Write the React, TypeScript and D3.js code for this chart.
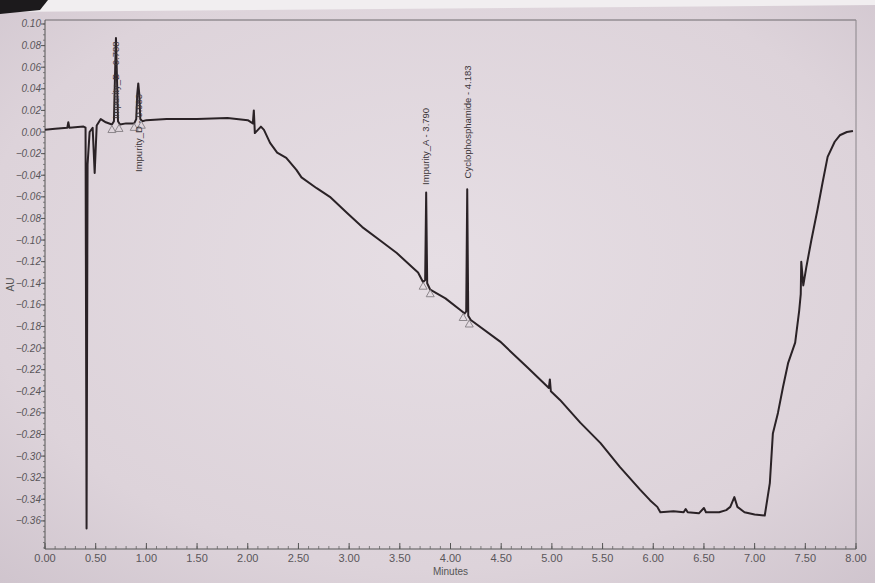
import React from 'react';
import * as d3 from 'd3';

// ---- Data ----
const traceTime = [
  0.0, 0.1, 0.22, 0.23, 0.24, 0.38, 0.40, 0.41, 0.42, 0.44, 0.47, 0.49, 0.51, 0.55, 0.60,
  0.66, 0.68, 0.69, 0.70, 0.71, 0.72, 0.74, 0.80, 0.88, 0.90, 0.91, 0.92, 0.93, 0.94, 0.96,
  1.0, 1.2, 1.5, 1.8, 2.0, 2.05, 2.06, 2.07, 2.10, 2.13, 2.16, 2.22, 2.29, 2.38, 2.48, 2.53,
  2.68, 2.81, 2.98, 3.13, 3.30, 3.47, 3.62, 3.68, 3.73, 3.75, 3.76, 3.77, 3.80, 3.95, 4.10,
  4.14, 4.155, 4.165, 4.175, 4.20, 4.49, 4.76, 4.97, 4.98, 4.99, 5.08, 5.28, 5.48, 5.67, 5.87,
  5.97, 6.04, 6.07, 6.20, 6.30, 6.32, 6.34, 6.45, 6.50, 6.52, 6.65, 6.72, 6.76, 6.80, 6.83,
  6.90, 7.00, 7.10, 7.15, 7.18, 7.23, 7.28, 7.33, 7.40, 7.44, 7.455, 7.46, 7.48, 7.51, 7.56,
  7.62, 7.67, 7.72, 7.79, 7.84, 7.91, 7.97,
];
const traceAU = [
  0.002, 0.003, 0.004, 0.009, 0.004, 0.005, 0.004, -0.367, -0.03, 0.0, 0.004, -0.038, 0.006, 0.012, 0.009,
  0.007, 0.010, 0.050, 0.087, 0.050, 0.010, 0.007, 0.008, 0.008, 0.012, 0.035, 0.045, 0.035, 0.012, 0.010,
  0.011, 0.012, 0.012, 0.013, 0.011, 0.008, 0.020, -0.001, 0.002, 0.005, 0.002, -0.010, -0.019, -0.024, -0.035, -0.042,
  -0.052, -0.060, -0.075, -0.088, -0.100, -0.112, -0.125, -0.130, -0.139, -0.137, -0.056, -0.140, -0.146, -0.154, -0.165,
  -0.168, -0.166, -0.053, -0.170, -0.174, -0.194, -0.218, -0.237, -0.229, -0.240, -0.248, -0.269, -0.288, -0.310, -0.331,
  -0.341, -0.347, -0.352, -0.351, -0.352, -0.349, -0.352, -0.353, -0.348, -0.352, -0.352, -0.350, -0.347, -0.338, -0.347,
  -0.352, -0.354, -0.355, -0.325, -0.279, -0.260, -0.236, -0.214, -0.195, -0.165, -0.150, -0.120, -0.142, -0.125, -0.100,
  -0.072, -0.047, -0.023, -0.009, -0.003, 0.000, 0.001,
];

const yTickValues = [0.10, 0.08, 0.06, 0.04, 0.02, 0.0, -0.02, -0.04, -0.06, -0.08, -0.10, -0.12, -0.14, -0.16,
  -0.18, -0.20, -0.22, -0.24, -0.26, -0.28, -0.30, -0.32, -0.34, -0.36];
const xTickValues = [0, 0.5, 1, 1.5, 2, 2.5, 3, 3.5, 4, 4.5, 5, 5.5, 6, 6.5, 7, 7.5, 8];

const peakNames = ['Impurity_B', 'Impurity_D', 'Impurity_A', 'Cyclophosphamide'];
const peakRetention = ['0.788', '0.983', '3.790', '4.183'];
const peakApexTime = [0.70, 0.92, 3.76, 4.165];
const peakLabelAU = [0.012, -0.037, -0.049, -0.043];
const peakStartTime = [0.66, 0.88, 3.73, 4.125];
const peakStartAU = [0.006, 0.008, -0.139, -0.168];
const peakEndTime = [0.73, 0.95, 3.80, 4.185];
const peakEndAU = [0.007, 0.010, -0.146, -0.174];

const W = 875;
const H = 583;

export default function App() {
  const left = 45, right = 856, top = 20, bottom = 549;
  const x = d3.scaleLinear().domain([0, 8]).range([left, right]);
  const y = d3.scaleLinear().domain([-0.386, 0.1037]).range([bottom, top]);

  const pts: [number, number][] = traceTime.map((t, i) => [t, traceAU[i]]);
  const line = d3.line<[number, number]>().x(d => x(d[0])).y(d => y(d[1]));

  const yMinor = d3.range(-0.385, 0.1036, 0.005);
  const xMinor = d3.range(0, 8.001, 0.1);
  const fmt = d3.format('.2f');

  const tri = (t: number, v: number) => {
    const px = x(t), py = y(v);
    return `M${px},${py} L${px - 4},${py + 7} L${px + 4},${py + 7} Z`;
  };

  return (
    <svg width={W} height={H} style={{ position: 'absolute', left: 0, top: 0 }}
      fontFamily="'Liberation Sans', Arial, sans-serif">
      <defs>
        <radialGradient id="paper" cx="50%" cy="45%" r="75%">
          <stop offset="0%" stopColor="#e6dee4" />
          <stop offset="70%" stopColor="#ddd3da" />
          <stop offset="100%" stopColor="#cfc4cd" />
        </radialGradient>
      </defs>
      <rect x={0} y={0} width={W} height={H} fill="url(#paper)" />
      <path d="M0,0 L875,0 L875,5 L0,12 Z" fill="#f1eef0" />
      <path d="M0,0 L48,0 L40,10 L0,14 Z" fill="#1c1a1c" />

      {/* frame */}
      <line x1={left} y1={top} x2={right} y2={top} stroke="#6e6a6e" strokeWidth={1} />
      <line x1={right} y1={top} x2={right} y2={bottom} stroke="#8a858a" strokeWidth={1} />
      <line x1={left} y1={top} x2={left} y2={bottom} stroke="#555" strokeWidth={1} />
      <line x1={left} y1={bottom} x2={right} y2={bottom} stroke="#555" strokeWidth={1} />

      {/* y ticks */}
      {yMinor.map((v, i) => (
        <line key={'ym' + i} x1={left - 2} x2={left} y1={y(v)} y2={y(v)} stroke="#666" strokeWidth={0.8} />
      ))}
      {yTickValues.map((v, i) => (
        <g key={'yt' + i}>
          <line x1={left - 4} x2={left} y1={y(v)} y2={y(v)} stroke="#555" strokeWidth={1} />
          <text x={left - 4} y={y(v)} dy="0.35em" textAnchor="end" fontSize={10} fill="#5a565a"
            fontStyle="italic">{fmt(v)}</text>
        </g>
      ))}
      <text transform={`translate(14,${(top + bottom) / 2}) rotate(-90)`} textAnchor="middle"
        fontSize={10} fill="#555">AU</text>

      {/* x ticks */}
      {xMinor.map((t, i) => (
        <line key={'xm' + i} x1={x(t)} x2={x(t)} y1={bottom} y2={bottom - 3} stroke="#666" strokeWidth={0.8} />
      ))}
      {xTickValues.map((t, i) => (
        <g key={'xt' + i}>
          <line x1={x(t)} x2={x(t)} y1={bottom} y2={bottom - 6} stroke="#555" strokeWidth={1} />
          <text x={x(t)} y={bottom + 13} textAnchor="middle" fontSize={11} fill="#5a565a">{fmt(t)}</text>
        </g>
      ))}
      <text x={(left + right) / 2} y={bottom + 26} textAnchor="middle" fontSize={10} fill="#555">Minutes</text>

      {/* trace */}
      <path d={line(pts) || ''} fill="none" stroke="#2a2226" strokeWidth={2} strokeLinejoin="round" />

      {/* peak markers */}
      {peakNames.map((n, i) => (
        <g key={'pk' + i}>
          <path d={tri(peakStartTime[i], peakStartAU[i])} fill="none" stroke="#8d878c" strokeWidth={1} />
          <path d={tri(peakEndTime[i], peakEndAU[i])} fill="none" stroke="#8d878c" strokeWidth={1} />
          <text transform={`translate(${x(peakApexTime[i])},${y(peakLabelAU[i])}) rotate(-90)`}
            dy="0.35em" textAnchor="start" fontSize={9.5} fill="#3a3438">
            {`${n} - ${peakRetention[i]}`}
          </text>
        </g>
      ))}
    </svg>
  );
}
